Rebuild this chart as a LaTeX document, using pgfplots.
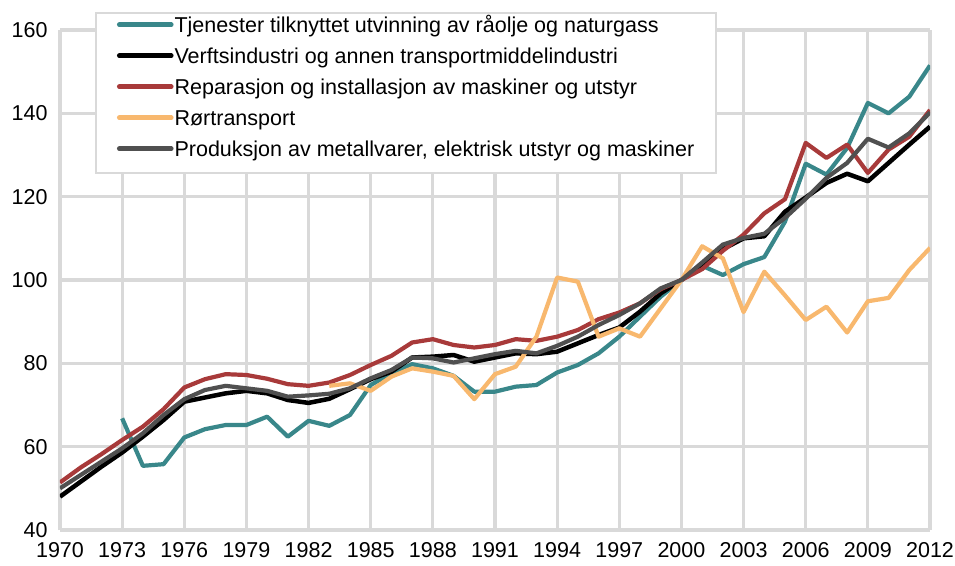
\documentclass[border=0pt]{standalone}
\usepackage{pgfplots}
\pgfplotsset{compat=1.18}
\usepackage{fontspec}
\setmainfont{Liberation Sans}
\definecolor{cteal}{RGB}{57,135,138}
\definecolor{cred}{RGB}{168,58,58}
\definecolor{corange}{RGB}{248,184,110}
\definecolor{cgray}{RGB}{80,80,80}
\definecolor{gridgray}{RGB}{217,217,217}
\begin{document}
\begin{tikzpicture}
\begin{axis}[
  scale only axis,
  width=870pt, height=500pt,
  xmin=1970, xmax=2012, ymin=40, ymax=160,
  xtick={1970,1973,...,2012}, ytick={40,60,...,160},
  xticklabel style={/pgf/number format/1000 sep={}, yshift=-9pt},
  yticklabel style={xshift=-9pt},
  /pgf/number format/assume math mode=true,
  tick label style={font=\fontsize{21.5}{24}\selectfont},
  major tick length=0pt,
  axis line style={draw=none},
  grid=major,
  major grid style={gridgray, line width=3.2pt},
  legend style={at={(0.0402,1.0366)}, anchor=north west,
    draw=gridgray, line width=2pt, fill=white,
    font=\fontsize{21.5}{24}\selectfont,
    inner xsep=21pt, inner ysep=7pt,
    row sep=9pt,
    nodes={inner sep=1pt, text height=12pt, text depth=8pt},
    cells={anchor=west}},
  legend image code/.code={\draw[#1, line width=4.6pt, line cap=round] (2pt,6pt) -- (54pt,6pt);},
]
\addplot[cteal, line width=4.2pt, line join=round] coordinates {
(1973,66.8)(1974,55.4)(1975,55.8)(1976,62.2)(1977,64.2)(1978,65.2)(1979,65.2)(1980,67.2)(1981,62.4)(1982,66.2)
(1983,65.0)(1984,67.6)(1985,74.8)(1986,77.6)(1987,79.8)(1988,78.8)(1989,77.0)(1990,73.2)(1991,73.2)(1992,74.4)
(1993,74.8)(1994,77.8)(1995,79.6)(1996,82.4)(1997,86.4)(1998,91.2)(1999,96.0)(2000,100)(2001,103.4)(2002,101.2)
(2003,103.8)(2004,105.5)(2005,114.0)(2006,127.9)(2007,125.3)(2008,131.7)(2009,142.5)(2010,140.0)(2011,144.0)(2012,151.5)};
\addlegendentry{Tjenester tilknyttet utvinning av råolje og naturgass}
\addplot[black, line width=4.5pt, line join=round] coordinates {
(1970,48.0)(1971,51.6)(1972,55.2)(1973,58.6)(1974,62.4)(1975,66.4)(1976,70.8)(1977,71.8)(1978,72.8)(1979,73.4)
(1980,72.8)(1981,71.2)(1982,70.5)(1983,71.5)(1984,73.8)(1985,76.2)(1986,78.0)(1987,81.4)(1988,81.6)(1989,82.0)
(1990,80.4)(1991,81.4)(1992,82.4)(1993,82.2)(1994,82.8)(1995,84.8)(1996,86.8)(1997,88.6)(1998,92.4)(1999,96.8)
(2000,100)(2001,103.8)(2002,107.4)(2003,110.0)(2004,110.5)(2005,116.4)(2006,119.8)(2007,123.3)(2008,125.5)(2009,123.7)
(2010,128.1)(2011,132.5)(2012,136.8)};
\addlegendentry{Verftsindustri og annen transportmiddelindustri}
\addplot[cred, line width=4.2pt, line join=round] coordinates {
(1970,51.4)(1971,55.0)(1972,58.2)(1973,61.6)(1974,64.8)(1975,69.0)(1976,74.2)(1977,76.2)(1978,77.4)(1979,77.2)
(1980,76.3)(1981,75.0)(1982,74.6)(1983,75.4)(1984,77.2)(1985,79.6)(1986,81.8)(1987,85.0)(1988,85.8)(1989,84.4)
(1990,83.8)(1991,84.4)(1992,85.8)(1993,85.4)(1994,86.4)(1995,88.0)(1996,90.6)(1997,92.2)(1998,94.4)(1999,97.8)
(2000,100)(2001,102.6)(2002,107.0)(2003,110.9)(2004,116.0)(2005,119.4)(2006,132.9)(2007,129.3)(2008,132.5)(2009,125.7)
(2010,131.3)(2011,134.4)(2012,140.8)};
\addlegendentry{Reparasjon og installasjon av maskiner og utstyr}
\addplot[corange, line width=4.2pt, line join=round] coordinates {
(1983,74.6)(1984,75.2)(1985,73.4)(1986,76.8)(1987,78.8)(1988,78.0)(1989,77.0)(1990,71.4)(1991,77.4)(1992,79.2)
(1993,86.4)(1994,100.6)(1995,99.6)(1996,86.4)(1997,88.4)(1998,86.4)(1999,93.2)(2000,100)(2001,108.1)(2002,105.2)
(2003,92.3)(2004,102.0)(2005,96.3)(2006,90.4)(2007,93.6)(2008,87.4)(2009,94.9)(2010,95.7)(2011,102.4)(2012,107.7)};
\addlegendentry{Rørtransport}
\addplot[cgray, line width=4.2pt, line join=round] coordinates {
(1970,50.0)(1971,53.2)(1972,56.4)(1973,59.6)(1974,63.2)(1975,67.6)(1976,71.4)(1977,73.6)(1978,74.6)(1979,74.0)
(1980,73.4)(1981,72.0)(1982,72.3)(1983,72.7)(1984,74.0)(1985,76.4)(1986,78.4)(1987,81.4)(1988,81.2)(1989,80.2)
(1990,81.2)(1991,82.2)(1992,83.0)(1993,82.4)(1994,84.2)(1995,86.4)(1996,89.2)(1997,91.6)(1998,94.4)(1999,98.0)
(2000,100)(2001,104.2)(2002,108.5)(2003,110.1)(2004,111.1)(2005,114.9)(2006,119.5)(2007,124.5)(2008,128.1)(2009,133.9)
(2010,131.8)(2011,135.2)(2012,140.2)};
\addlegendentry{Produksjon av metallvarer, elektrisk utstyr og maskiner}
\end{axis}
\pgfresetboundingbox
\path[use as bounding box] (-60pt,-35pt) rectangle (895pt,530pt);
\end{tikzpicture}
\end{document}
